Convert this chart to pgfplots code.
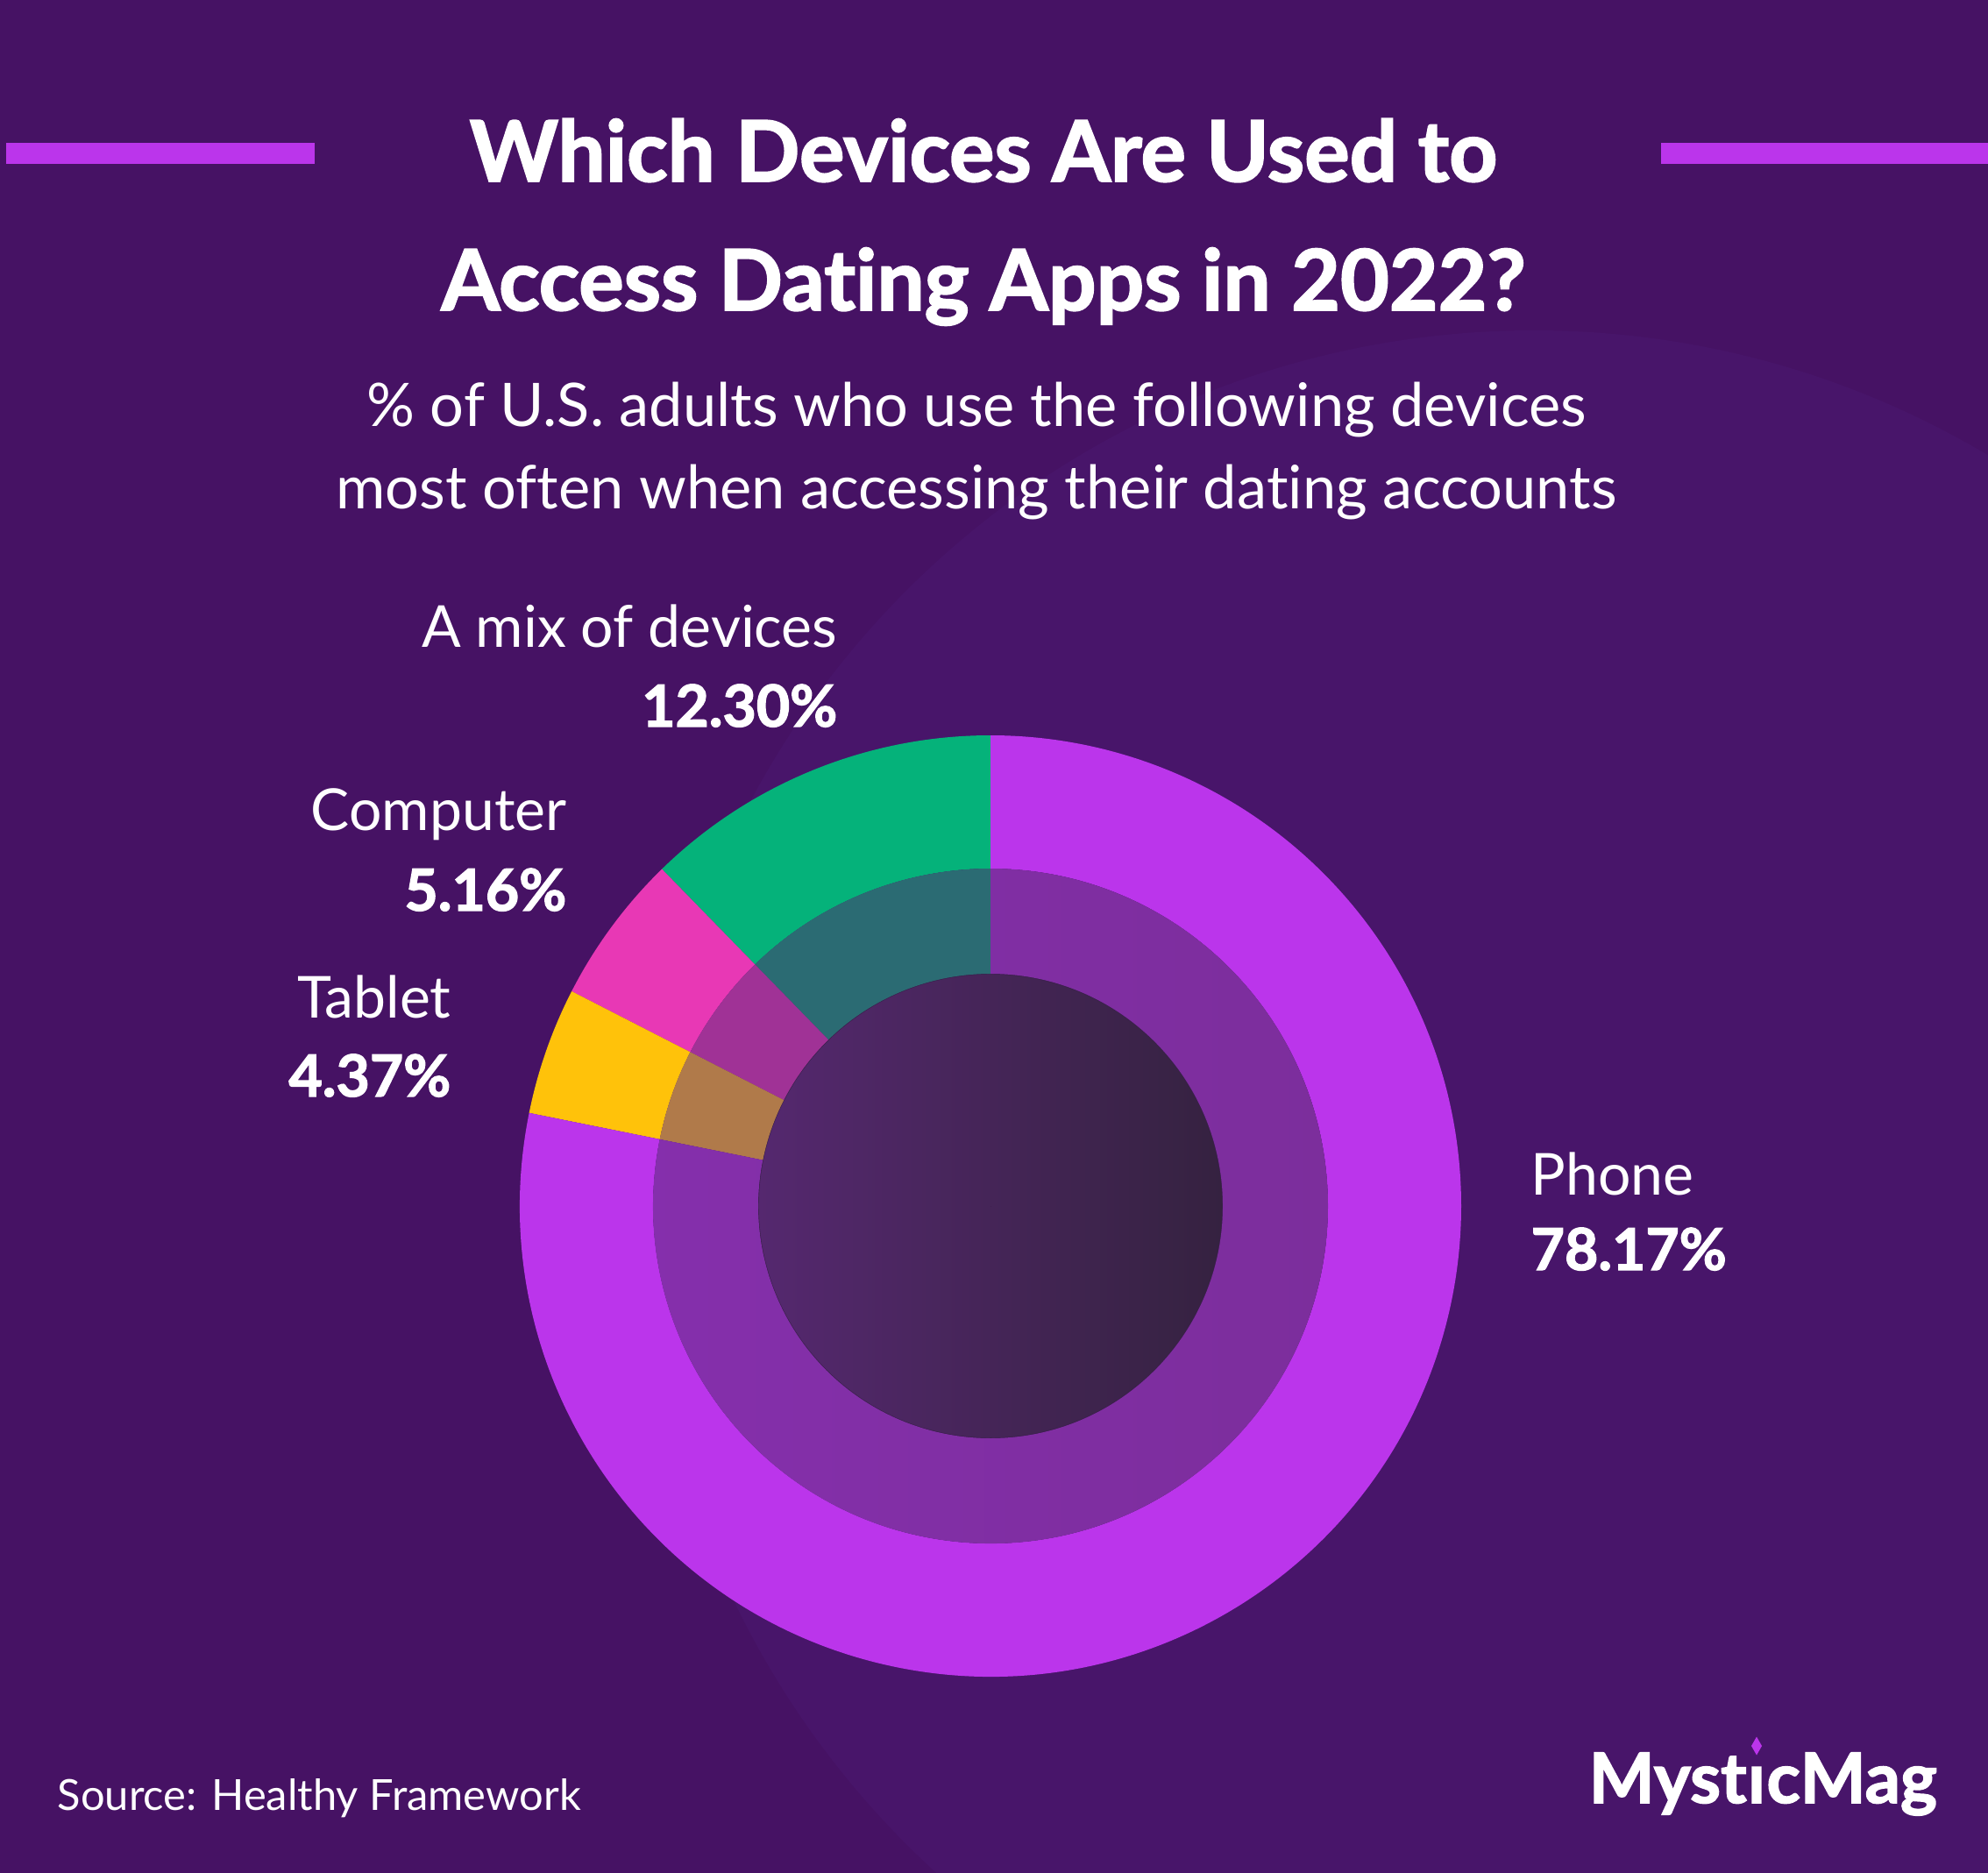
\documentclass[border=0pt]{standalone}
\usepackage{pgfplots}
\pgfplotsset{compat=1.18}
\usepackage{pgfplotstable}
\usepackage{fontspec}
\setmainfont{Lato}[Ligatures={NoCommon}]
\newfontfamily\heavy{Lato}[Ligatures={NoCommon}, BoldFeatures={FakeBold=2}]

\definecolor{bg}{HTML}{461264}
\definecolor{bgcircle}{HTML}{48156A}
\definecolor{phone}{HTML}{BB35EB}
\definecolor{mix}{HTML}{05B27A}
\definecolor{computer}{HTML}{E838B5}
\definecolor{tablet}{HTML}{FFC20A}
\definecolor{phoneinL}{HTML}{8A30B5}
\definecolor{phoneinR}{HTML}{772D93}
\definecolor{mixin}{HTML}{2B6B73}
\definecolor{computerin}{HTML}{A03296}
\definecolor{tabletin}{HTML}{B07A4A}
\definecolor{diskL}{HTML}{55286F}
\definecolor{diskR}{HTML}{352240}
\definecolor{diskB}{HTML}{3A1F4C}

% shadings for the inner ring, one per slice
\pgfdeclarehorizontalshading{phoneshade}{100bp}{color(0bp)=(phoneinL); color(100bp)=(phoneinR)}
\pgfdeclarehorizontalshading{mixshade}{100bp}{color(0bp)=(mixin); color(100bp)=(mixin)}
\pgfdeclarehorizontalshading{computershade}{100bp}{color(0bp)=(computerin); color(100bp)=(computerin)}
\pgfdeclarehorizontalshading{tabletshade}{100bp}{color(0bp)=(tabletin); color(100bp)=(tabletin)}

% share of U.S. adults (%), slices run counter-clockwise from the top
% id: 0 mix, 1 computer, 2 tablet, 3 phone
\pgfplotstableread{
x    y   start value id
1130 760 0.00  12.30 0
1130 760 12.30 5.16  1
1130 760 17.46 4.37  2
1130 760 21.83 78.17 3
}\devices

\begin{document}
\begin{tikzpicture}
\begin{axis}[
    x=0.1mm, y=0.1mm,
    xmin=0, xmax=2268, ymin=0, ymax=2136,
    hide axis,
    clip=false,
]
% background
\fill[bg] (axis cs:-30,-30) rectangle (axis cs:2298,2166);
\begin{scope}
  \clip (axis cs:-30,-30) rectangle (axis cs:2298,2166);
  \fill[bgcircle] (axis cs:1750,747) circle[radius=101.2mm];
\end{scope}
\coordinate (SW) at (axis cs:0,0);
\coordinate (NE) at (axis cs:2268,2136);

% side bars
\fill[phone] (axis cs:7,1949) rectangle (axis cs:359,1973);
\fill[phone] (axis cs:1895,1949) rectangle (axis cs:2298,1973);

% donut: one scatter point per slice, the marker draws the two ring sectors
\addplot[scatter, only marks, mark=*, mark size=0pt,
    point meta=\thisrow{value},
    visualization depends on={\thisrow{start}\as\slicestart},
    visualization depends on={\thisrow{value}\as\slicevalue},
    visualization depends on={\thisrow{id}\as\sliceid},
    scatter/@pre marker code/.code={%
      \pgfmathsetmacro\angA{90+3.6*\slicestart}%
      \pgfmathsetmacro\angB{90+3.6*(\slicestart+\slicevalue)}%
      \pgfmathtruncatemacro\sid{\sliceid}%
      \ifcase\sid
        \def\outercol{mix}\def\innershade{mixshade}%
      \or
        \def\outercol{computer}\def\innershade{computershade}%
      \or
        \def\outercol{tablet}\def\innershade{tabletshade}%
      \else
        \def\outercol{phone}\def\innershade{phoneshade}%
      \fi
      \begin{pgfscope}%
        \pgfpathmoveto{\pgfpointpolar{\angA}{53.7mm}}%
        \pgfpatharc{\angA}{\angB}{53.7mm}%
        \pgfpathlineto{\pgfpointpolar{\angB}{38.5mm}}%
        \pgfpatharc{\angB}{\angA}{38.5mm}%
        \pgfpathclose
        \pgfsetfillcolor{\outercol}%
        \pgfusepath{fill}%
      \end{pgfscope}%
      \begin{pgfscope}%
        \pgfpathmoveto{\pgfpointpolar{\angA}{38.5mm}}%
        \pgfpatharc{\angA}{\angB}{38.5mm}%
        \pgfpathlineto{\pgfpointpolar{\angB}{26.5mm}}%
        \pgfpatharc{\angB}{\angA}{26.5mm}%
        \pgfpathclose
        \pgfshadepath{\innershade}{0}%
        \pgfusepath{}%
      \end{pgfscope}%
    },
    scatter/@post marker code/.code={},
] table {\devices};

% centre disk
\shadedraw[left color=diskL, right color=diskR, draw=diskB, line width=0.4pt]
  (axis cs:1130,760) circle[radius=26.5mm];

% title
\node[anchor=base, text=white, inner sep=0pt, font=\heavy\bfseries\fontsize{27.4}{33}\selectfont]
  at (axis cs:1122,1929) {Which Devices Are Used to};
\node[anchor=base, text=white, inner sep=0pt, font=\heavy\bfseries\fontsize{27.4}{33}\selectfont]
  at (axis cs:1122,1782) {Access Dating Apps in 2022?};
\node[anchor=base, text=white, inner sep=0pt, font=\fontsize{19.5}{24}\selectfont]
  at (axis cs:1114,1649) {\% of U.S. adults who use the following devices};
\node[anchor=base, text=white, inner sep=0pt, font=\fontsize{19.5}{24}\selectfont]
  at (axis cs:1114,1555) {most often when accessing their dating accounts};

% slice labels
\tikzset{lab/.style={text=white, inner sep=0pt, font=\fontsize{18.8}{23}\selectfont},
         val/.style={text=white, inner sep=0pt, font=\heavy\bfseries\fontsize{18.8}{23}\selectfont}}
\node[lab, anchor=base east] at (axis cs:956,1397) {A mix of devices};
\node[val, anchor=base east] at (axis cs:956,1307) {12.30\%};
\node[lab, anchor=base east] at (axis cs:647,1189) {Computer};
\node[val, anchor=base east] at (axis cs:647,1097) {5.16\%};
\node[lab, anchor=base east] at (axis cs:515,975) {Tablet};
\node[val, anchor=base east] at (axis cs:515,885) {4.37\%};
\node[lab, anchor=base west] at (axis cs:1746,773) {Phone};
\node[val, anchor=base west] at (axis cs:1746,687) {78.17\%};

% footer
\node[anchor=base west, text=white, inner sep=0pt, font=\fontsize{13.9}{17}\selectfont]
  at (axis cs:65,71) {Source: Healthy Framework};
\tikzset{logo/.style={anchor=base west, text=white, inner sep=0pt, font=\heavy\bfseries\fontsize{22.6}{27}\selectfont}}
\node[logo] (m1) at (axis cs:1812,79) {Myst};
\node[logo] (m2) at (m1.base east) {ı};
\node[logo] (m3) at (m2.base east) {cMag};
\fill[phone] (m2.base) ++(0,6.5mm) +(0,1.05mm) -- +(0.6mm,0) -- +(0,-1.05mm) -- +(-0.6mm,0) -- cycle;
\end{axis}
\pgfresetboundingbox
\useasboundingbox (SW) rectangle (NE);
\end{tikzpicture}
\end{document}
